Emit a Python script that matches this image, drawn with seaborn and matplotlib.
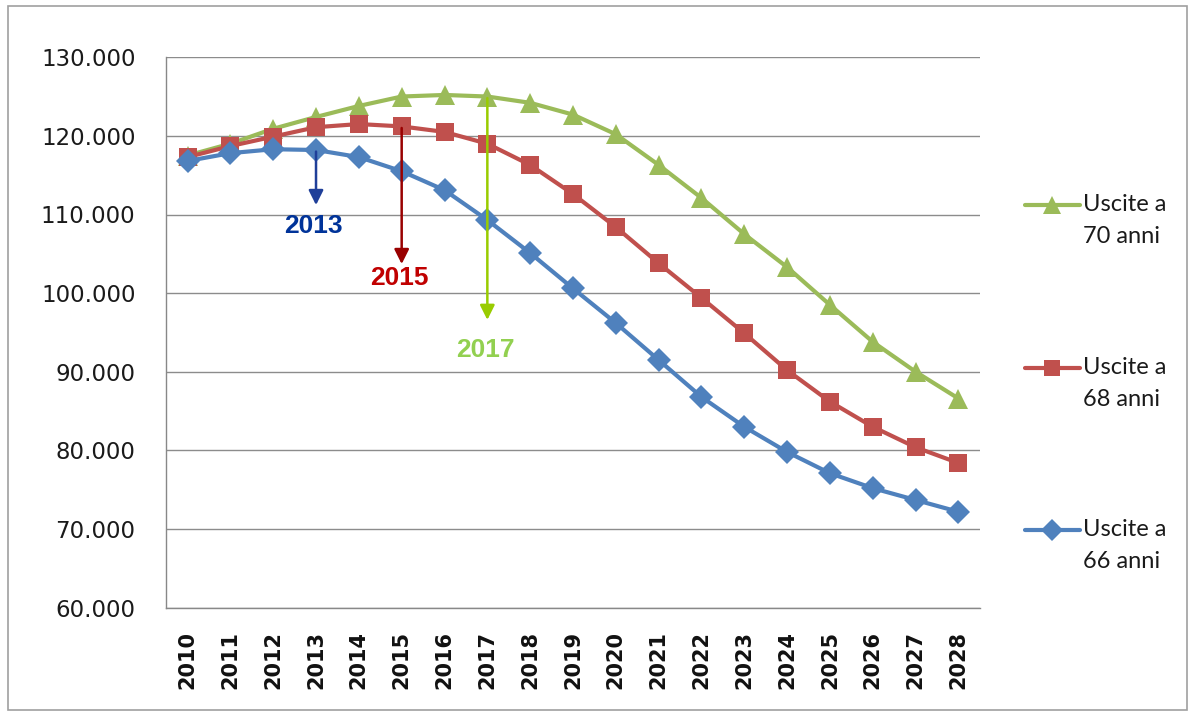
import matplotlib
matplotlib.use('Agg')
import matplotlib.pyplot as plt
from matplotlib.lines import Line2D
from matplotlib.patches import Rectangle
import pandas as pd
import seaborn as sns

# %% dati (migliaia)
anni = list(range(2010, 2029))
uscite_70 = [117.5, 119.0, 120.9, 122.4, 123.8, 125.0, 125.2, 125.0, 124.2, 122.7,
             120.2, 116.3, 112.1, 107.5, 103.3, 98.5, 93.8, 90.0, 86.6]
uscite_68 = [117.3, 118.7, 119.9, 121.1, 121.5, 121.2, 120.5, 119.0, 116.3, 112.6,
             108.4, 103.8, 99.4, 94.9, 90.2, 86.2, 83.0, 80.4, 78.4]
uscite_66 = [116.8, 117.8, 118.3, 118.2, 117.3, 115.5, 113.1, 109.3, 105.1, 100.6,
             96.2, 91.5, 86.8, 83.0, 79.8, 77.1, 75.2, 73.7, 72.2]
serie = ['Uscite a 70 anni', 'Uscite a 68 anni', 'Uscite a 66 anni']
colori = ['#9BBB59', '#C0504D', '#4F81BD']
marker = ['^', 's', 'D']
dim_marker = [14, 13, 12]

# %% tabella lunga per seaborn
df = pd.DataFrame({
    'Anno': anni * 3,
    'Uscite': [v * 1000 for v in uscite_70 + uscite_68 + uscite_66],
    'Serie': [serie[0]] * len(anni) + [serie[1]] * len(anni) + [serie[2]] * len(anni),
})

sns.set_style('white')
plt.rcParams['font.family'] = ['DejaVu Sans']

fig = plt.figure(figsize=(11.95, 7.15), dpi=100)
ax = fig.add_axes([0.139, 0.150, 0.681, 0.770])

for s, c, m, ms in zip(serie, colori, marker, dim_marker):
    sns.lineplot(data=df[df['Serie'] == s], x='Anno', y='Uscite', color=c,
                 marker=m, linewidth=3.0, markersize=ms, markeredgewidth=0,
                 legend=False, ax=ax)

ax.set_xlim(2009.5, 2028.5)
ax.set_ylim(60000, 130000)
ax.set_xticks(anni)
ax.set_xticks([a + 0.5 for a in [2009] + anni], minor=True)
yt = list(range(60000, 130001, 10000))
ax.set_yticks(yt)
ax.set_yticklabels([f'{v:,}'.replace(',', '.') for v in yt], fontsize=16.5,
                   family='DejaVu Sans', color='#1A1A1A')
ax.set_xticklabels([str(a) for a in anni], rotation=90, fontweight='bold', fontsize=15,
                   family='DejaVu Sans', color='#111111')
ax.tick_params(axis='x', which='major', length=0, pad=17)
ax.tick_params(axis='x', which='minor', length=7, width=1, color='#888888', direction='out')
ax.tick_params(axis='y', length=8, width=1, color='#888888', direction='out', pad=14)
ax.set_xlabel('')
ax.set_ylabel('')
ax.yaxis.grid(True, color='#8C8C8C', linewidth=1)
ax.xaxis.grid(False)
for lato in ['top', 'right']:
    ax.spines[lato].set_visible(False)
for lato in ['left', 'bottom']:
    ax.spines[lato].set_color('#888888')
    ax.spines[lato].set_linewidth(1)

# %% frecce con gli anni
frecce = [
    (2013, 118.0, 111.2, 108.6, '2013', '#1F3F99', '#003399'),
    (2015, 121.0, 103.7, 101.9, '2015', '#990000', '#C00000'),
    (2017, 124.8, 96.6, 92.8, '2017', '#99CC00', '#92D050'),
]
for x, y0, y1, ytxt, testo, c_freccia, c_testo in frecce:
    ax.annotate('', xy=(x, y1 * 1000), xytext=(x, y0 * 1000),
                arrowprops=dict(arrowstyle='-|>', color=c_freccia, lw=1.8,
                                mutation_scale=22, shrinkA=0, shrinkB=0))
    ax.text(x - 0.05, ytxt * 1000, testo, color=c_testo, fontsize=19, fontweight='bold',
            family='Liberation Sans', ha='center', va='center')

# %% legenda a destra (una voce per serie, su due righe)
voci_y = [205, 368, 530]
for s, c, m, ms, py in zip(serie, colori, marker, dim_marker, voci_y):
    yf = 1 - py / 715
    fig.add_artist(Line2D([1025 / 1195, 1080 / 1195], [yf, yf], color=c, lw=3.0,
                          transform=fig.transFigure))
    fig.add_artist(Line2D([1052 / 1195], [yf], color=c, marker=m, markersize=ms - 1,
                          markeredgewidth=0, transform=fig.transFigure))
    riga1, riga2 = s[:8], s[9:]
    fig.text(1083 / 1195, yf, riga1, family='Lato', fontsize=17, color='#1A1A1A',
             ha='left', va='center')
    fig.text(1083 / 1195, yf - 32 / 715, riga2, family='Lato', fontsize=17, color='#1A1A1A',
             ha='left', va='center')

# bordo esterno
fig.patches.append(Rectangle((0.007, 0.007), 0.986, 0.985, transform=fig.transFigure,
                             fill=False, edgecolor='#A0A0A0', linewidth=1.2))

fig.savefig('out.png', dpi=100)
